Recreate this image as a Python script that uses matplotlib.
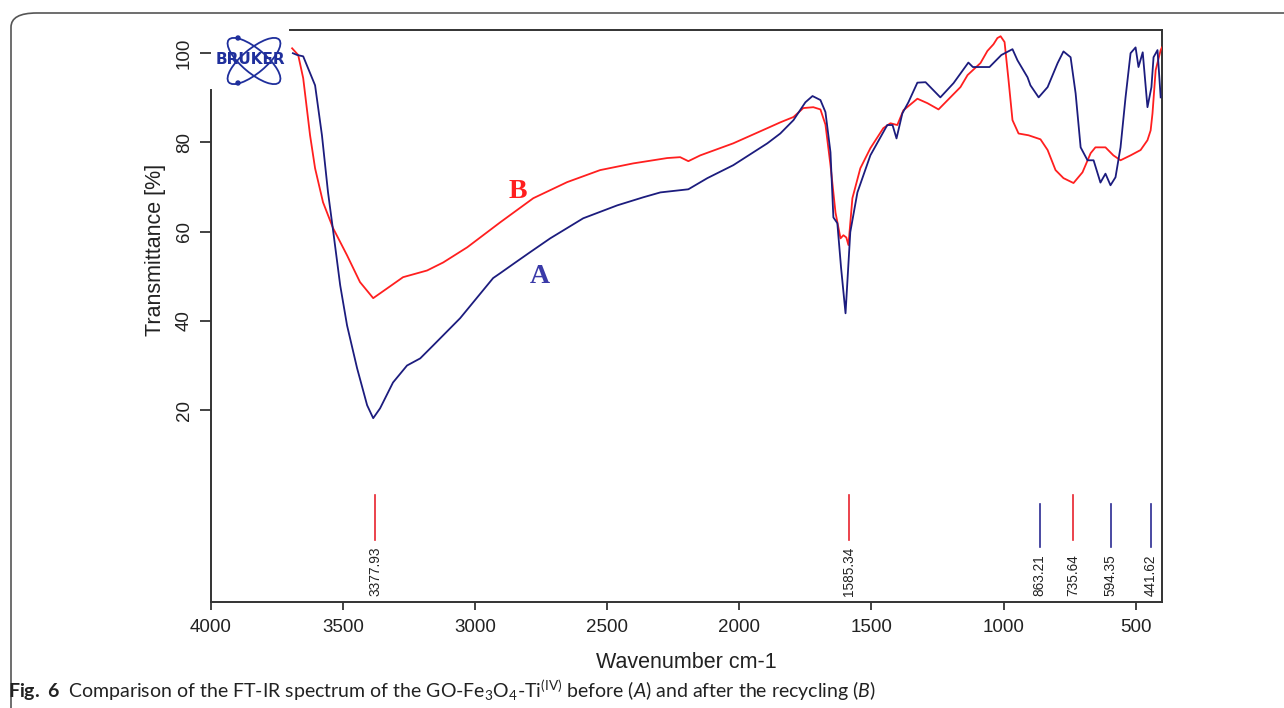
import matplotlib
matplotlib.use("Agg")
import matplotlib.pyplot as plt
from matplotlib.patches import Ellipse, Circle, FancyBboxPatch
import numpy as np

# ---------------- data ----------------
wn_A = [3690, 3674, 3651, 3606, 3580, 3557, 3537, 3511, 3485, 3447, 3409, 3386, 3360,
        3311, 3258, 3208, 3159, 3057, 2932, 2905, 2850, 2792, 2716, 2591, 2462, 2364,
        2299, 2193, 2121, 2023, 1894, 1845, 1795, 1750, 1723, 1693, 1674, 1655, 1644,
        1629, 1615, 1598, 1580, 1553, 1504, 1440, 1420, 1405, 1383, 1360, 1326, 1295,
        1239, 1189, 1133, 1116, 1053, 1008, 966, 947, 909, 898, 867, 833, 795, 773, 746,
        727, 708, 682, 659, 633, 614, 595, 576, 557, 538, 519, 500, 489, 473, 455, 440,
        432, 417, 405]
tr_A = [100.0, 99.6, 99.3, 92.8, 81.6, 68.8, 59.9, 48.0, 39.0, 29.4, 21.1, 18.2, 20.4,
        26.2, 30.0, 31.6, 34.5, 40.6, 49.6, 50.7, 53.0, 55.4, 58.5, 63.0, 65.9, 67.7,
        68.8, 69.5, 72.0, 74.9, 79.8, 82.0, 85.0, 89.0, 90.4, 89.5, 86.8, 77.8, 63.2,
        61.9, 52.0, 41.7, 59.9, 68.8, 77.1, 83.9, 83.9, 80.9, 86.5, 89.0, 93.4, 93.5,
        90.1, 93.3, 97.9, 96.9, 96.9, 99.6, 100.9, 98.4, 94.6, 92.8, 90.1, 92.4, 97.8,
        100.4, 99.1, 91.0, 78.9, 76.0, 76.0, 71.0, 73.0, 70.4, 72.2, 78.9, 90.1, 100.0,
        101.3, 96.9, 100.2, 87.9, 92.4, 99.1, 100.7, 90.1]

wn_B = [3693, 3670, 3651, 3625, 3606, 3576, 3538, 3485, 3436, 3386, 3333, 3273, 3182,
        3121, 3030, 2905, 2780, 2652, 2527, 2402, 2273, 2224, 2193, 2148, 2023, 1894,
        1845, 1795, 1758, 1720, 1693, 1674, 1655, 1636, 1617, 1606, 1595, 1587, 1572,
        1542, 1504, 1455, 1428, 1402, 1379, 1326, 1288, 1246, 1163, 1136, 1087, 1061,
        1038, 1023, 1011, 996, 981, 966, 943, 905, 860, 833, 803, 773, 735, 701, 670,
        652, 614, 584, 557, 519, 481, 455, 443, 436, 424, 405, 400]
tr_B = [101.1, 99.6, 94.4, 81.6, 74.2, 66.6, 60.8, 54.7, 48.7, 45.1, 47.3, 49.8, 51.3,
        53.1, 56.5, 62.1, 67.5, 71.1, 73.8, 75.3, 76.5, 76.7, 75.8, 77.1, 79.8, 83.2,
        84.5, 85.7, 87.7, 87.9, 87.4, 84.0, 74.9, 64.3, 58.5, 59.2, 58.7, 57.0, 67.5,
        74.2, 78.7, 83.2, 84.3, 83.9, 87.2, 89.8, 88.8, 87.4, 92.4, 95.1, 97.8, 100.5,
        102.0, 103.4, 103.8, 102.5, 94.0, 85.0, 82.0, 81.6, 80.7, 78.3, 73.8, 72.0,
        70.9, 73.3, 77.6, 78.9, 78.9, 77.1, 76.0, 77.1, 78.3, 80.5, 82.7, 86.5, 96.2,
        100.7, 101.3]

peaks_red = [3377.93, 1585.34, 735.64]
peaks_blue = [863.21, 594.35, 441.62]
x_ticks = [4000, 3500, 3000, 2500, 2000, 1500, 1000, 500]
y_ticks = [20, 40, 60, 80, 100]

RED = "#ff1f1f"
BLUE = "#1c1c7e"
PEAK_RED = "#e8222e"
PEAK_BLUE = "#2b2b92"

plt.rcParams['font.family'] = ['Liberation Sans', 'DejaVu Sans']

W, H = 1284, 708
fig = plt.figure(figsize=(W / 100, H / 100), dpi=100)

def fx(px):
    return px / W

def fy(py):
    return 1 - py / H

ax = fig.add_axes([fx(211), fy(602), fx(1162) - fx(211), fy(30) - fy(602)])
ax.set_xlim(4000, 400)
ax.set_ylim(-23.0, 105.2)

ax.plot(wn_B, tr_B, color=RED, lw=1.3, zorder=3)
ax.plot(wn_A, tr_A, color=BLUE, lw=1.3, zorder=4)

# peak markers
for p in peaks_red:
    ax.plot([p, p], [0.9, -9.2], color=PEAK_RED, lw=1.2)
    ax.text(p, -21.6, f"{p:.2f}", rotation=90, ha='center', va='bottom',
            fontsize=9.8, color='#222222')
for p in peaks_blue:
    ax.plot([p, p], [-1.1, -10.7], color=PEAK_BLUE, lw=1.2)
    ax.text(p, -21.6, f"{p:.2f}", rotation=90, ha='center', va='bottom',
            fontsize=9.8, color='#222222')

# curve labels
ax.text(2837, 69, "B", color=RED, fontsize=20, fontweight='bold',
        family='Liberation Serif', ha='center', va='center')
ax.text(2754, 50, "A", color='#3a3aa8', fontsize=20, fontweight='bold',
        family='Liberation Serif', ha='center', va='center')

# axes styling (R-like)
ax.set_xticks(x_ticks)
ax.set_yticks(y_ticks)
ax.set_yticklabels([str(v) for v in y_ticks], rotation=90, va='center')
ax.tick_params(axis='x', length=6, width=1.2, labelsize=13.5, pad=6, colors='#222222')
ax.tick_params(axis='y', length=8, width=1.2, labelsize=13.5, pad=5, colors='#222222')
for s in ['left', 'bottom', 'right', 'top']:
    ax.spines[s].set_linewidth(1.4)
    ax.spines[s].set_color('#333333')
ax.spines['top'].set_bounds(3701, 400)
ax.spines['left'].set_bounds(-23.0, 91.7)

fig.text(fx(155), fy(250), "Transmittance [%]", rotation=90, ha='center', va='center',
         fontsize=15.5, color='#222222')
fig.text(fx(686), fy(662), "Wavenumber cm-1", ha='center', va='center',
         fontsize=15.5, color='#222222')

# Bruker logo
lax = fig.add_axes([fx(208), fy(90), fx(290) - fx(208), fy(25) - fy(90)], zorder=5)
lax.set_xlim(0, 82)
lax.set_ylim(0, 65)
lax.axis('off')
LOGO = "#1f2f9c"
lax.add_patch(Ellipse((46, 29), 66, 24, angle=40, fill=False, ec=LOGO, lw=1.3))
lax.add_patch(Ellipse((46, 29), 66, 24, angle=-40, fill=False, ec=LOGO, lw=1.3))
lax.add_patch(Circle((30, 52), 2.0, color=LOGO))
lax.add_patch(Circle((30, 7), 2.0, color=LOGO))
lax.text(42, 30, "BRUKER", color=LOGO, fontsize=11, fontweight='bold',
         family='DejaVu Sans', ha='center', va='center')

# figure frame (rounded)
frame = FancyBboxPatch((fx(11), fy(740)), fx(1320) - fx(11), fy(13) - fy(740),
                       boxstyle="round,pad=0,rounding_size=0.02",
                       transform=fig.transFigure, fill=False, ec='#555555', lw=1.2,
                       clip_on=False)
fig.patches.append(frame)

# caption
plt.rcParams['mathtext.fontset'] = 'custom'
plt.rcParams['mathtext.rm'] = 'Lato'
plt.rcParams['mathtext.it'] = 'Lato:italic'
plt.rcParams['mathtext.bf'] = 'Lato:bold'
caption = (r"$\mathbf{Fig.\ 6}$  Comparison of the FT-IR spectrum of the GO-Fe$_3$O$_4$-Ti$^{\rm (IV)}$"
           r" before ($\mathit{A}$) and after the recycling ($\mathit{B}$)")
fig.text(fx(8), fy(690), caption, ha='left', va='center', fontsize=14,
         family=['Lato', 'DejaVu Sans'], color='#222222')

fig.savefig("out.png", dpi=100)
